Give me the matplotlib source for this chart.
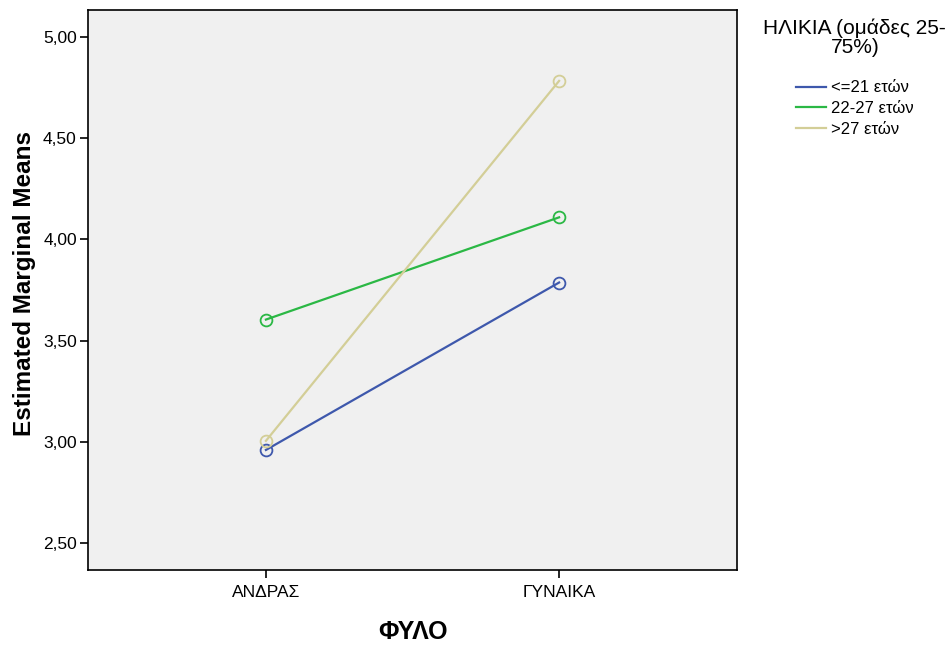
import matplotlib
matplotlib.use("Agg")
from matplotlib import pyplot as plt

plt.rcParams["font.family"] = ["Liberation Sans", "DejaVu Sans"]

categories = ["ΑΝΔΡΑΣ", "ΓΥΝΑΙΚΑ"]
series_names = ["<=21 ετών", "22-27 ετών", ">27 ετών"]
series_values = [
    [2.96, 3.787],
    [3.604, 4.109],
    [3.005, 4.783],
]
colors = ["#3e58ac", "#2bb845", "#d3ce97"]
y_ticks = [2.5, 3.0, 3.5, 4.0, 4.5, 5.0]

fig = plt.figure(figsize=(9.53, 6.47), dpi=100)
ax = fig.add_axes([0.0923, 0.119, 0.6811, 0.8655])
ax.set_facecolor("#f0f0f0")

x = list(range(len(categories)))
handles = []
for name, vals, col in zip(series_names, series_values, colors):
    ax.plot(x, vals, color=col, lw=1.6, marker="o", ms=8.5,
            mfc="none", mec=col, mew=1.3)
    handles.append(plt.Line2D([], [], color=col, lw=1.6))

ax.set_xlim(-0.607, 1.607)
ax.set_ylim(2.367, 5.133)
ax.set_xticks(x)
ax.set_xticklabels(categories, fontsize=12.5)
ax.set_yticks(y_ticks)
ax.set_yticklabels([f"{v:.2f}".replace(".", ",") for v in y_ticks], fontsize=12.5)
ax.tick_params(length=6, width=1.2, color="black", pad=2)
ax.tick_params(axis="x", pad=5)
for sp in ax.spines.values():
    sp.set_linewidth(1.2)

ax.set_xlabel("ΦΥΛΟ", fontsize=18, fontweight="bold", labelpad=14)
ax.set_ylabel("Estimated Marginal Means", fontsize=17.5, fontweight="bold", labelpad=0)
ax.yaxis.set_label_coords(-0.08, 0.511)

fig.text(0.897, 0.972, "ΗΛΙΚΙΑ (ομάδες 25-\n75%)", ha="center", va="top",
         fontsize=15, linespacing=1.05)
fig.legend(handles, series_names, loc="upper left", bbox_to_anchor=(0.828, 0.886),
           frameon=False, fontsize=12, handlelength=1.8, handletextpad=0.3,
           labelspacing=0.35, borderaxespad=0)

fig.savefig("out.png", dpi=100)
